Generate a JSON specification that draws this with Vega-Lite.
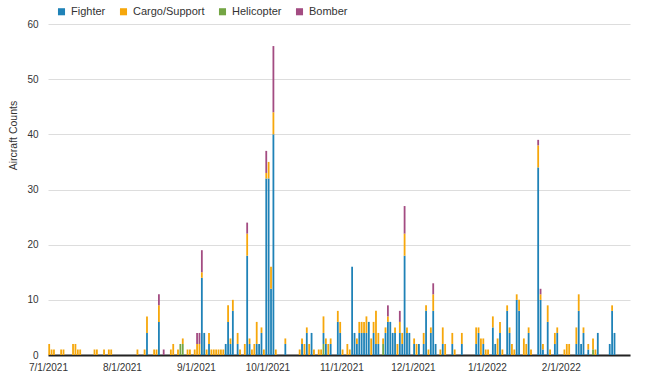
{
  "$schema": "https://vega.github.io/schema/vega-lite/v6.json",
  "width": 582,
  "height": 331,
  "autosize": {"type": "none"},
  "padding": {"left": 48, "top": 24, "right": 20, "bottom": 35},
  "background": "white",
  "config": {
    "font": "Liberation Sans",
    "view": {"stroke": null}
  },
  "data": {
    "values": [
      {"d":"2021-07-01","Fighter":0,"Cargo/Support":2,"Helicopter":0,"Bomber":0},
      {"d":"2021-07-02","Fighter":0,"Cargo/Support":1,"Helicopter":0,"Bomber":0},
      {"d":"2021-07-03","Fighter":0,"Cargo/Support":1,"Helicopter":0,"Bomber":0},
      {"d":"2021-07-06","Fighter":0,"Cargo/Support":1,"Helicopter":0,"Bomber":0},
      {"d":"2021-07-07","Fighter":0,"Cargo/Support":1,"Helicopter":0,"Bomber":0},
      {"d":"2021-07-11","Fighter":0,"Cargo/Support":2,"Helicopter":0,"Bomber":0},
      {"d":"2021-07-12","Fighter":0,"Cargo/Support":2,"Helicopter":0,"Bomber":0},
      {"d":"2021-07-13","Fighter":0,"Cargo/Support":1,"Helicopter":0,"Bomber":0},
      {"d":"2021-07-14","Fighter":0,"Cargo/Support":1,"Helicopter":0,"Bomber":0},
      {"d":"2021-07-20","Fighter":0,"Cargo/Support":1,"Helicopter":0,"Bomber":0},
      {"d":"2021-07-21","Fighter":0,"Cargo/Support":1,"Helicopter":0,"Bomber":0},
      {"d":"2021-07-24","Fighter":0,"Cargo/Support":1,"Helicopter":0,"Bomber":0},
      {"d":"2021-07-26","Fighter":0,"Cargo/Support":1,"Helicopter":0,"Bomber":0},
      {"d":"2021-07-27","Fighter":0,"Cargo/Support":1,"Helicopter":0,"Bomber":0},
      {"d":"2021-08-07","Fighter":0,"Cargo/Support":1,"Helicopter":0,"Bomber":0},
      {"d":"2021-08-10","Fighter":0,"Cargo/Support":1,"Helicopter":0,"Bomber":0},
      {"d":"2021-08-11","Fighter":4,"Cargo/Support":3,"Helicopter":0,"Bomber":0},
      {"d":"2021-08-14","Fighter":0,"Cargo/Support":1,"Helicopter":0,"Bomber":0},
      {"d":"2021-08-15","Fighter":0,"Cargo/Support":1,"Helicopter":0,"Bomber":0},
      {"d":"2021-08-16","Fighter":6,"Cargo/Support":3,"Helicopter":0,"Bomber":2},
      {"d":"2021-08-18","Fighter":0,"Cargo/Support":0,"Helicopter":0,"Bomber":1},
      {"d":"2021-08-21","Fighter":0,"Cargo/Support":1,"Helicopter":0,"Bomber":0},
      {"d":"2021-08-22","Fighter":0,"Cargo/Support":2,"Helicopter":0,"Bomber":0},
      {"d":"2021-08-24","Fighter":0,"Cargo/Support":1,"Helicopter":0,"Bomber":0},
      {"d":"2021-08-25","Fighter":0,"Cargo/Support":0,"Helicopter":2,"Bomber":0},
      {"d":"2021-08-26","Fighter":0,"Cargo/Support":1,"Helicopter":2,"Bomber":0},
      {"d":"2021-08-28","Fighter":0,"Cargo/Support":1,"Helicopter":0,"Bomber":0},
      {"d":"2021-08-29","Fighter":0,"Cargo/Support":1,"Helicopter":0,"Bomber":0},
      {"d":"2021-08-31","Fighter":0,"Cargo/Support":1,"Helicopter":0,"Bomber":0},
      {"d":"2021-09-01","Fighter":0,"Cargo/Support":2,"Helicopter":0,"Bomber":2},
      {"d":"2021-09-02","Fighter":0,"Cargo/Support":2,"Helicopter":0,"Bomber":2},
      {"d":"2021-09-03","Fighter":14,"Cargo/Support":1,"Helicopter":0,"Bomber":4},
      {"d":"2021-09-04","Fighter":4,"Cargo/Support":0,"Helicopter":0,"Bomber":0},
      {"d":"2021-09-05","Fighter":0,"Cargo/Support":1,"Helicopter":0,"Bomber":0},
      {"d":"2021-09-06","Fighter":2,"Cargo/Support":2,"Helicopter":0,"Bomber":0},
      {"d":"2021-09-07","Fighter":0,"Cargo/Support":1,"Helicopter":0,"Bomber":0},
      {"d":"2021-09-08","Fighter":0,"Cargo/Support":1,"Helicopter":0,"Bomber":0},
      {"d":"2021-09-09","Fighter":0,"Cargo/Support":1,"Helicopter":0,"Bomber":0},
      {"d":"2021-09-10","Fighter":0,"Cargo/Support":1,"Helicopter":0,"Bomber":0},
      {"d":"2021-09-11","Fighter":0,"Cargo/Support":1,"Helicopter":0,"Bomber":0},
      {"d":"2021-09-12","Fighter":0,"Cargo/Support":1,"Helicopter":0,"Bomber":0},
      {"d":"2021-09-13","Fighter":2,"Cargo/Support":0,"Helicopter":0,"Bomber":0},
      {"d":"2021-09-14","Fighter":6,"Cargo/Support":3,"Helicopter":0,"Bomber":0},
      {"d":"2021-09-15","Fighter":2,"Cargo/Support":1,"Helicopter":0,"Bomber":0},
      {"d":"2021-09-16","Fighter":8,"Cargo/Support":2,"Helicopter":0,"Bomber":0},
      {"d":"2021-09-18","Fighter":2,"Cargo/Support":2,"Helicopter":0,"Bomber":0},
      {"d":"2021-09-19","Fighter":0,"Cargo/Support":1,"Helicopter":0,"Bomber":0},
      {"d":"2021-09-21","Fighter":0,"Cargo/Support":2,"Helicopter":0,"Bomber":0},
      {"d":"2021-09-22","Fighter":18,"Cargo/Support":4,"Helicopter":0,"Bomber":2},
      {"d":"2021-09-23","Fighter":2,"Cargo/Support":1,"Helicopter":0,"Bomber":0},
      {"d":"2021-09-24","Fighter":0,"Cargo/Support":1,"Helicopter":0,"Bomber":0},
      {"d":"2021-09-25","Fighter":0,"Cargo/Support":2,"Helicopter":0,"Bomber":0},
      {"d":"2021-09-26","Fighter":2,"Cargo/Support":4,"Helicopter":0,"Bomber":0},
      {"d":"2021-09-27","Fighter":2,"Cargo/Support":0,"Helicopter":0,"Bomber":0},
      {"d":"2021-09-28","Fighter":4,"Cargo/Support":1,"Helicopter":0,"Bomber":0},
      {"d":"2021-09-29","Fighter":0,"Cargo/Support":1,"Helicopter":0,"Bomber":0},
      {"d":"2021-09-30","Fighter":32,"Cargo/Support":1,"Helicopter":0,"Bomber":4},
      {"d":"2021-10-01","Fighter":32,"Cargo/Support":3,"Helicopter":0,"Bomber":0},
      {"d":"2021-10-02","Fighter":12,"Cargo/Support":4,"Helicopter":0,"Bomber":0},
      {"d":"2021-10-03","Fighter":40,"Cargo/Support":4,"Helicopter":0,"Bomber":12},
      {"d":"2021-10-04","Fighter":0,"Cargo/Support":1,"Helicopter":0,"Bomber":0},
      {"d":"2021-10-08","Fighter":2,"Cargo/Support":1,"Helicopter":0,"Bomber":0},
      {"d":"2021-10-14","Fighter":0,"Cargo/Support":1,"Helicopter":0,"Bomber":0},
      {"d":"2021-10-15","Fighter":2,"Cargo/Support":1,"Helicopter":0,"Bomber":0},
      {"d":"2021-10-16","Fighter":0,"Cargo/Support":2,"Helicopter":0,"Bomber":0},
      {"d":"2021-10-17","Fighter":4,"Cargo/Support":1,"Helicopter":0,"Bomber":0},
      {"d":"2021-10-18","Fighter":0,"Cargo/Support":2,"Helicopter":0,"Bomber":0},
      {"d":"2021-10-19","Fighter":4,"Cargo/Support":0,"Helicopter":0,"Bomber":0},
      {"d":"2021-10-20","Fighter":0,"Cargo/Support":1,"Helicopter":0,"Bomber":0},
      {"d":"2021-10-22","Fighter":0,"Cargo/Support":1,"Helicopter":0,"Bomber":0},
      {"d":"2021-10-23","Fighter":0,"Cargo/Support":1,"Helicopter":0,"Bomber":0},
      {"d":"2021-10-24","Fighter":2,"Cargo/Support":3,"Helicopter":2,"Bomber":0},
      {"d":"2021-10-25","Fighter":2,"Cargo/Support":1,"Helicopter":0,"Bomber":0},
      {"d":"2021-10-26","Fighter":0,"Cargo/Support":2,"Helicopter":0,"Bomber":0},
      {"d":"2021-10-27","Fighter":2,"Cargo/Support":1,"Helicopter":0,"Bomber":0},
      {"d":"2021-10-30","Fighter":6,"Cargo/Support":2,"Helicopter":0,"Bomber":0},
      {"d":"2021-10-31","Fighter":4,"Cargo/Support":2,"Helicopter":0,"Bomber":0},
      {"d":"2021-11-01","Fighter":0,"Cargo/Support":1,"Helicopter":0,"Bomber":0},
      {"d":"2021-11-03","Fighter":0,"Cargo/Support":2,"Helicopter":0,"Bomber":0},
      {"d":"2021-11-04","Fighter":0,"Cargo/Support":1,"Helicopter":0,"Bomber":0},
      {"d":"2021-11-05","Fighter":16,"Cargo/Support":0,"Helicopter":0,"Bomber":0},
      {"d":"2021-11-06","Fighter":4,"Cargo/Support":0,"Helicopter":0,"Bomber":0},
      {"d":"2021-11-07","Fighter":2,"Cargo/Support":1,"Helicopter":0,"Bomber":0},
      {"d":"2021-11-08","Fighter":4,"Cargo/Support":2,"Helicopter":0,"Bomber":0},
      {"d":"2021-11-09","Fighter":4,"Cargo/Support":2,"Helicopter":0,"Bomber":0},
      {"d":"2021-11-10","Fighter":4,"Cargo/Support":2,"Helicopter":0,"Bomber":0},
      {"d":"2021-11-11","Fighter":4,"Cargo/Support":3,"Helicopter":0,"Bomber":0},
      {"d":"2021-11-12","Fighter":6,"Cargo/Support":0,"Helicopter":0,"Bomber":0},
      {"d":"2021-11-13","Fighter":0,"Cargo/Support":3,"Helicopter":0,"Bomber":0},
      {"d":"2021-11-14","Fighter":4,"Cargo/Support":2,"Helicopter":0,"Bomber":0},
      {"d":"2021-11-15","Fighter":2,"Cargo/Support":6,"Helicopter":0,"Bomber":0},
      {"d":"2021-11-16","Fighter":2,"Cargo/Support":2,"Helicopter":0,"Bomber":0},
      {"d":"2021-11-18","Fighter":0,"Cargo/Support":1,"Helicopter":2,"Bomber":0},
      {"d":"2021-11-19","Fighter":4,"Cargo/Support":1,"Helicopter":0,"Bomber":0},
      {"d":"2021-11-20","Fighter":6,"Cargo/Support":1,"Helicopter":0,"Bomber":2},
      {"d":"2021-11-21","Fighter":6,"Cargo/Support":0,"Helicopter":0,"Bomber":0},
      {"d":"2021-11-22","Fighter":4,"Cargo/Support":0,"Helicopter":0,"Bomber":0},
      {"d":"2021-11-23","Fighter":4,"Cargo/Support":1,"Helicopter":0,"Bomber":0},
      {"d":"2021-11-24","Fighter":0,"Cargo/Support":2,"Helicopter":0,"Bomber":0},
      {"d":"2021-11-25","Fighter":4,"Cargo/Support":2,"Helicopter":0,"Bomber":2},
      {"d":"2021-11-26","Fighter":2,"Cargo/Support":2,"Helicopter":0,"Bomber":0},
      {"d":"2021-11-27","Fighter":18,"Cargo/Support":4,"Helicopter":0,"Bomber":5},
      {"d":"2021-11-28","Fighter":4,"Cargo/Support":1,"Helicopter":0,"Bomber":0},
      {"d":"2021-11-29","Fighter":4,"Cargo/Support":0,"Helicopter":0,"Bomber":0},
      {"d":"2021-12-01","Fighter":2,"Cargo/Support":1,"Helicopter":0,"Bomber":0},
      {"d":"2021-12-02","Fighter":0,"Cargo/Support":2,"Helicopter":0,"Bomber":0},
      {"d":"2021-12-03","Fighter":2,"Cargo/Support":0,"Helicopter":0,"Bomber":0},
      {"d":"2021-12-05","Fighter":2,"Cargo/Support":2,"Helicopter":0,"Bomber":0},
      {"d":"2021-12-06","Fighter":8,"Cargo/Support":1,"Helicopter":0,"Bomber":0},
      {"d":"2021-12-07","Fighter":0,"Cargo/Support":1,"Helicopter":0,"Bomber":0},
      {"d":"2021-12-08","Fighter":4,"Cargo/Support":1,"Helicopter":0,"Bomber":0},
      {"d":"2021-12-09","Fighter":8,"Cargo/Support":3,"Helicopter":0,"Bomber":2},
      {"d":"2021-12-10","Fighter":2,"Cargo/Support":0,"Helicopter":0,"Bomber":0},
      {"d":"2021-12-12","Fighter":0,"Cargo/Support":1,"Helicopter":0,"Bomber":0},
      {"d":"2021-12-13","Fighter":2,"Cargo/Support":3,"Helicopter":0,"Bomber":0},
      {"d":"2021-12-14","Fighter":0,"Cargo/Support":2,"Helicopter":0,"Bomber":0},
      {"d":"2021-12-17","Fighter":2,"Cargo/Support":2,"Helicopter":0,"Bomber":0},
      {"d":"2021-12-18","Fighter":0,"Cargo/Support":1,"Helicopter":0,"Bomber":0},
      {"d":"2021-12-21","Fighter":2,"Cargo/Support":2,"Helicopter":0,"Bomber":0},
      {"d":"2021-12-27","Fighter":2,"Cargo/Support":3,"Helicopter":0,"Bomber":0},
      {"d":"2021-12-28","Fighter":4,"Cargo/Support":1,"Helicopter":0,"Bomber":0},
      {"d":"2021-12-29","Fighter":0,"Cargo/Support":3,"Helicopter":0,"Bomber":0},
      {"d":"2021-12-30","Fighter":2,"Cargo/Support":1,"Helicopter":0,"Bomber":0},
      {"d":"2021-12-31","Fighter":0,"Cargo/Support":1,"Helicopter":0,"Bomber":0},
      {"d":"2022-01-01","Fighter":0,"Cargo/Support":1,"Helicopter":0,"Bomber":0},
      {"d":"2022-01-03","Fighter":5,"Cargo/Support":2,"Helicopter":0,"Bomber":0},
      {"d":"2022-01-04","Fighter":2,"Cargo/Support":0,"Helicopter":0,"Bomber":0},
      {"d":"2022-01-05","Fighter":0,"Cargo/Support":3,"Helicopter":0,"Bomber":0},
      {"d":"2022-01-06","Fighter":4,"Cargo/Support":2,"Helicopter":0,"Bomber":0},
      {"d":"2022-01-07","Fighter":0,"Cargo/Support":1,"Helicopter":0,"Bomber":0},
      {"d":"2022-01-09","Fighter":8,"Cargo/Support":1,"Helicopter":0,"Bomber":0},
      {"d":"2022-01-10","Fighter":4,"Cargo/Support":1,"Helicopter":0,"Bomber":0},
      {"d":"2022-01-11","Fighter":0,"Cargo/Support":2,"Helicopter":0,"Bomber":0},
      {"d":"2022-01-12","Fighter":0,"Cargo/Support":1,"Helicopter":0,"Bomber":0},
      {"d":"2022-01-13","Fighter":10,"Cargo/Support":1,"Helicopter":0,"Bomber":0},
      {"d":"2022-01-14","Fighter":8,"Cargo/Support":2,"Helicopter":0,"Bomber":0},
      {"d":"2022-01-16","Fighter":0,"Cargo/Support":3,"Helicopter":0,"Bomber":0},
      {"d":"2022-01-17","Fighter":0,"Cargo/Support":2,"Helicopter":0,"Bomber":0},
      {"d":"2022-01-18","Fighter":4,"Cargo/Support":1,"Helicopter":0,"Bomber":0},
      {"d":"2022-01-19","Fighter":0,"Cargo/Support":1,"Helicopter":0,"Bomber":0},
      {"d":"2022-01-22","Fighter":34,"Cargo/Support":4,"Helicopter":0,"Bomber":1},
      {"d":"2022-01-23","Fighter":10,"Cargo/Support":1,"Helicopter":0,"Bomber":1},
      {"d":"2022-01-24","Fighter":1,"Cargo/Support":1,"Helicopter":0,"Bomber":0},
      {"d":"2022-01-26","Fighter":6,"Cargo/Support":3,"Helicopter":0,"Bomber":0},
      {"d":"2022-01-27","Fighter":0,"Cargo/Support":1,"Helicopter":0,"Bomber":0},
      {"d":"2022-01-29","Fighter":2,"Cargo/Support":2,"Helicopter":0,"Bomber":0},
      {"d":"2022-01-30","Fighter":4,"Cargo/Support":1,"Helicopter":0,"Bomber":0},
      {"d":"2022-02-02","Fighter":0,"Cargo/Support":1,"Helicopter":0,"Bomber":0},
      {"d":"2022-02-03","Fighter":0,"Cargo/Support":2,"Helicopter":0,"Bomber":0},
      {"d":"2022-02-04","Fighter":0,"Cargo/Support":2,"Helicopter":0,"Bomber":0},
      {"d":"2022-02-07","Fighter":2,"Cargo/Support":3,"Helicopter":0,"Bomber":0},
      {"d":"2022-02-08","Fighter":8,"Cargo/Support":3,"Helicopter":0,"Bomber":0},
      {"d":"2022-02-09","Fighter":2,"Cargo/Support":0,"Helicopter":0,"Bomber":0},
      {"d":"2022-02-10","Fighter":4,"Cargo/Support":1,"Helicopter":0,"Bomber":0},
      {"d":"2022-02-12","Fighter":1,"Cargo/Support":1,"Helicopter":0,"Bomber":0},
      {"d":"2022-02-14","Fighter":0,"Cargo/Support":2,"Helicopter":1,"Bomber":0},
      {"d":"2022-02-15","Fighter":0,"Cargo/Support":1,"Helicopter":0,"Bomber":0},
      {"d":"2022-02-16","Fighter":4,"Cargo/Support":0,"Helicopter":0,"Bomber":0},
      {"d":"2022-02-21","Fighter":2,"Cargo/Support":0,"Helicopter":0,"Bomber":0},
      {"d":"2022-02-22","Fighter":8,"Cargo/Support":1,"Helicopter":0,"Bomber":0},
      {"d":"2022-02-23","Fighter":4,"Cargo/Support":0,"Helicopter":0,"Bomber":0}
    ]
  },
  "transform": [
    {"fold": ["Fighter", "Cargo/Support", "Helicopter", "Bomber"], "as": ["type", "count"]},
    {"filter": "datum.count > 0"}
  ],
  "mark": {"type": "bar", "width": 1.8},
  "encoding": {
    "x": {
      "field": "d",
      "type": "temporal",
      "timeUnit": "utcyearmonthdate",
      "scale": {"domain": [{"year": 2021, "month": 7, "date": 1, "utc": true}, {"year": 2022, "month": 3, "date": 2, "utc": true}]},
      "axis": {
        "title": null,
        "values": [
          {"year": 2021, "month": 7, "date": 1, "utc": true},
          {"year": 2021, "month": 8, "date": 1, "utc": true},
          {"year": 2021, "month": 9, "date": 1, "utc": true},
          {"year": 2021, "month": 10, "date": 1, "utc": true},
          {"year": 2021, "month": 11, "date": 1, "utc": true},
          {"year": 2021, "month": 12, "date": 1, "utc": true},
          {"year": 2022, "month": 1, "date": 1, "utc": true},
          {"year": 2022, "month": 2, "date": 1, "utc": true}
        ],
        "format": "%-m/%-d/%Y",
        "grid": false,
        "ticks": false,
        "domainColor": "#222222",
        "domainWidth": 2,
        "labelFontSize": 10,
        "labelColor": "#333333",
        "labelPadding": 7,
        "labelFlush": false,
        "labelOverlap": false
      }
    },
    "y": {
      "field": "count",
      "type": "quantitative",
      "aggregate": "sum",
      "stack": "zero",
      "scale": {"domain": [0, 60], "nice": false},
      "axis": {
        "title": "Aircraft Counts",
        "titleFontSize": 10.5,
        "titleFontWeight": "normal",
        "titleColor": "#333333",
        "titlePadding": 8,
        "titleY": 111,
        "values": [0, 10, 20, 30, 40, 50, 60],
        "domain": false,
        "ticks": false,
        "gridColor": "#dddddd",
        "labelFontSize": 10,
        "labelColor": "#333333",
        "labelPadding": 10
      }
    },
    "color": {
      "field": "type",
      "type": "nominal",
      "sort": ["Fighter", "Cargo/Support", "Helicopter", "Bomber"],
      "scale": {
        "domain": ["Fighter", "Cargo/Support", "Helicopter", "Bomber"],
        "range": ["#1f82b7", "#f6a70b", "#74a544", "#a34c82"]
      },
      "legend": {
        "title": null,
        "orient": "none",
        "legendX": 8,
        "legendY": -18,
        "direction": "horizontal",
        "symbolType": "square",
        "symbolSize": 50,
        "symbolStrokeWidth": 0,
        "labelFontSize": 11,
        "labelColor": "#333333",
        "columnPadding": 12,
        "labelOffset": 4,
        "padding": 0
      }
    },
    "order": {"field": "type", "sort": "descending"}
  }
}
